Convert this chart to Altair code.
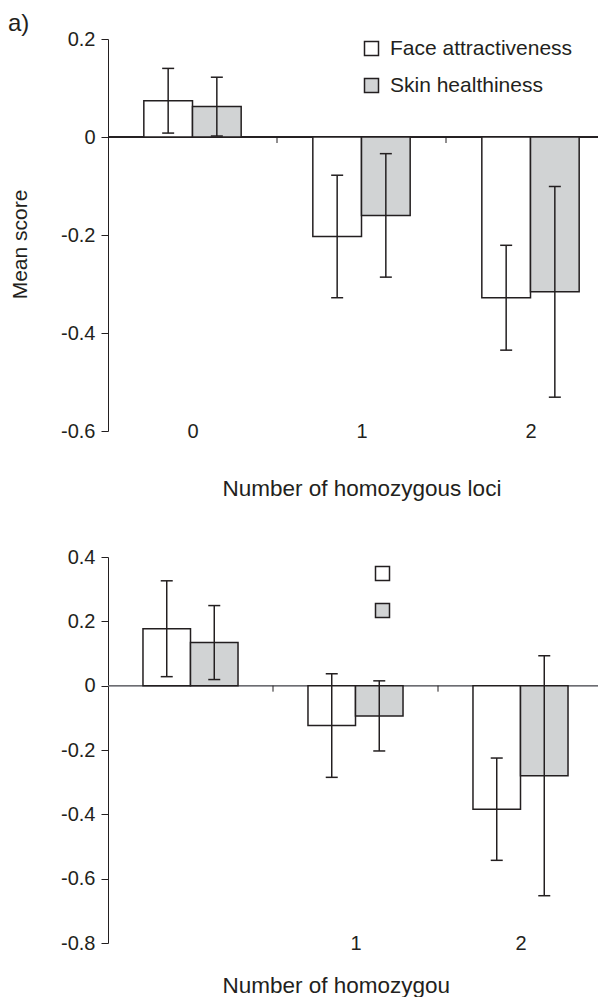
import altair as alt
import pandas as pd

# ---------------- data ----------------
loci = [0, 1, 2]
series = ["Face attractiveness", "Skin healthiness"]
fills = ["#ffffff", "#d1d3d4"]

top_face_mean = [0.074, -0.203, -0.328]
top_face_err = [0.066, 0.125, 0.107]
top_skin_mean = [0.062, -0.160, -0.316]
top_skin_err = [0.060, 0.126, 0.215]

bottom_face_mean = [0.177, -0.124, -0.384]
bottom_face_err = [0.149, 0.161, 0.159]
bottom_skin_mean = [0.134, -0.094, -0.280]
bottom_skin_err = [0.115, 0.109, 0.373]

top_y_ticks = [-0.6, -0.4, -0.2, 0, 0.2]
bottom_y_ticks = [-0.8, -0.6, -0.4, -0.2, 0, 0.2, 0.4]
top_x_labels = [0, 1, 2]
bottom_x_labels = [1, 2]

panel_label = "a)"
y_title = "Mean score"
top_x_title = "Number of homozygous loci"
bottom_x_title = "Number of homozygou"

FONT = "Liberation Sans"
INK = "#231f20"
BAR_W = 0.288


def make_panel(face_mean, face_err, skin_mean, skin_err, y_ticks, x_labels,
               x_title, ytitle, x_max, width, height, show_legend_text,
               legend_x, legend_y, title_y, zero_color):
    rows = []
    for i, l in enumerate(loci):
        for s, m, e in ((series[0], face_mean[i], face_err[i]),
                        (series[1], skin_mean[i], skin_err[i])):
            rows.append({"loci": l, "series": s, "mean": m,
                         "lo": m - e, "hi": m + e})
    df = pd.DataFrame(rows)
    bounds = pd.DataFrame({"b": [l + 0.5 for l in loci]})

    xscale = alt.Scale(domain=[-0.5, x_max], nice=False, zero=False)
    xaxis = alt.Axis(values=x_labels, domain=False, ticks=False, tickSize=0,
                     grid=False, labelPadding=0, labelBaseline="middle",
                     labelFontSize=20, labelFont=FONT, labelColor=INK,
                     title=x_title, titleFontSize=22.5, titleFont=FONT,
                     titleFontWeight="normal", titleColor=INK,
                     titleAlign="left", titleAnchor="start", titleX=114,
                     titleY=title_y, titleBaseline="alphabetic")
    yscale = alt.Scale(domain=[min(y_ticks), max(y_ticks)], nice=False,
                       zero=False)
    yaxis = alt.Axis(values=y_ticks, grid=False, tickSize=7, labelPadding=6,
                     labelExpr="toString(round(datum.value*10)/10)",
                     labelFontSize=20, labelFont=FONT, labelColor=INK,
                     domainColor=INK, tickColor=INK, domainWidth=1,
                     tickWidth=1, title=ytitle, titleFontSize=21,
                     titleFont=FONT, titleFontWeight="normal",
                     titleColor=INK, titlePadding=30, titleY=205)

    def X(f):
        return alt.X(f, type="quantitative", scale=xscale, axis=xaxis)

    def Y(f):
        return alt.Y(f, type="quantitative", scale=yscale, axis=yaxis)

    base = alt.Chart(df).transform_calculate(
        slot=f"indexof({series!r}, datum.series)"
    ).transform_calculate(
        x0=f"datum.loci + (datum.slot - 1) * {BAR_W}",
        x1=f"datum.loci + datum.slot * {BAR_W}",
        xc=f"datum.loci + (datum.slot - 0.5) * {BAR_W}",
    )

    legend = alt.Legend(orient="none", legendX=legend_x, legendY=legend_y,
                        title=None, symbolType="square", symbolSize=196,
                        symbolStrokeColor=INK, symbolStrokeWidth=1.5,
                        symbolOpacity=1, labelFontSize=21, labelFont=FONT,
                        labelColor=INK, labelOffset=8, rowPadding=15,
                        labelLimit=400, padding=0,
                        labelOpacity=1 if show_legend_text else 0)

    zero = alt.Chart(df).mark_rule(color=zero_color, strokeWidth=1).encode(
        y=alt.YDatum(0, scale=yscale, axis=yaxis)
    )
    ticks = alt.Chart(bounds).transform_filter(
        f"datum.b <= {x_max}"
    ).mark_rule(color=INK, strokeWidth=1, y2Offset=6).encode(
        x=X("b"), y=alt.YDatum(0, scale=yscale, axis=yaxis), y2=alt.datum(0)
    )
    bars = base.mark_bar(stroke=INK, strokeWidth=1.5, opacity=1).encode(
        x=X("x0"), x2="x1:Q", y=Y("mean"), y2=alt.datum(0),
        fill=alt.Fill("series:N", scale=alt.Scale(domain=series, range=fills),
                      legend=legend),
    )
    stems = base.mark_rule(color=INK, strokeWidth=1.5).encode(
        x=X("xc"), y=Y("lo"), y2="hi:Q"
    )
    caps_lo = base.mark_tick(color=INK, orient="horizontal", size=12,
                             thickness=1.5, opacity=1).encode(x=X("xc"), y=Y("lo"))
    caps_hi = base.mark_tick(color=INK, orient="horizontal", size=12,
                             thickness=1.5, opacity=1).encode(x=X("xc"), y=Y("hi"))

    return alt.layer(zero, ticks, bars, stems, caps_lo, caps_hi).properties(
        width=width, height=height
    )


top = make_panel(top_face_mean, top_face_err, top_skin_mean, top_skin_err,
                 top_y_ticks, top_x_labels, top_x_title, y_title,
                 -0.5 + 498 / 169, 498, 392, True, 253, -1, 64, INK).properties(
    title=alt.TitleParams(panel_label, anchor="start", frame="group", dx=-100,
                          fontSize=24, font=FONT, fontWeight="normal",
                          color=INK, offset=-7)
)
bottom = make_panel(bottom_face_mean, bottom_face_err, bottom_skin_mean,
                    bottom_skin_err, bottom_y_ticks, bottom_x_labels,
                    bottom_x_title, "", 2.5, 495, 386, False, 264, 6, 49.5,
                    "#6d6e71")

chart = alt.vconcat(top, bottom, spacing=126, bounds="flush").resolve_legend(
    fill="independent"
).properties(
    padding={"left": 0, "top": 4, "right": -9, "bottom": 0}
).configure_view(strokeWidth=0)

chart.save("out.html", embed_options={"renderer": "svg", "actions": False})
